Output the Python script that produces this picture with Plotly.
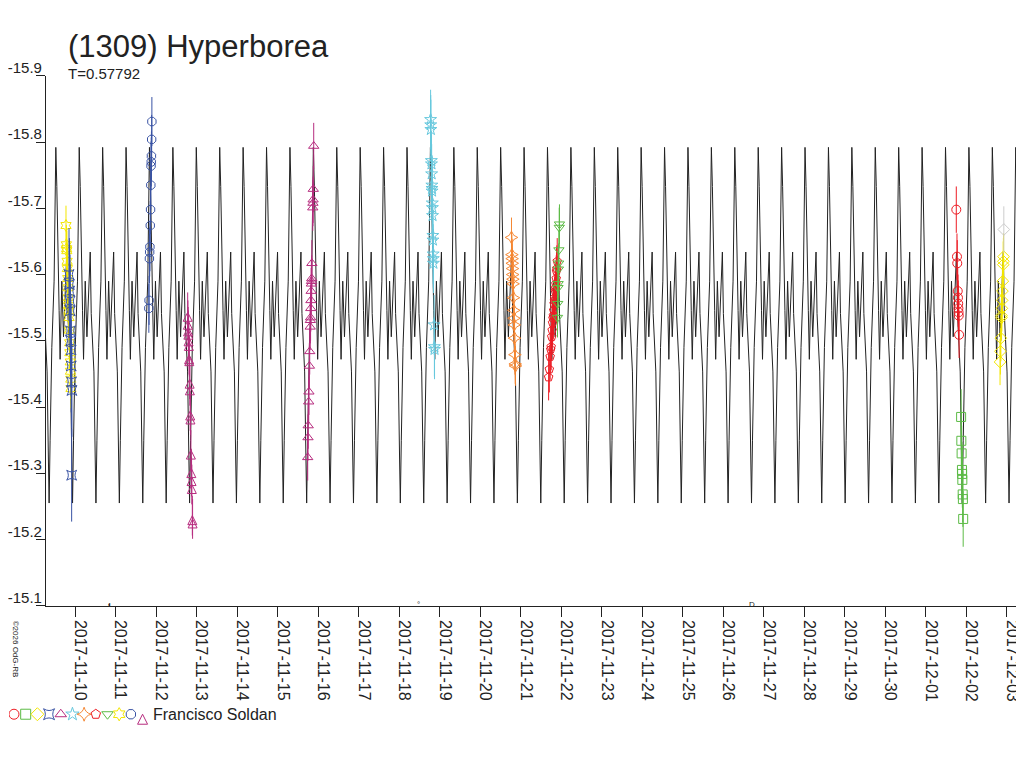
import pandas as pd
import plotly.graph_objects as go

FONT = "Liberation Sans, Arial, sans-serif"
# the page puts the figure 8px in from the corner, so it is drawn 8px smaller
PAGE_OFF = 8
W, H = 1024 - PAGE_OFF, 768 - PAGE_OFF

PERIOD = 0.57792  # days
EPOCH = pd.Timestamp("2017-11-23 05:28")  # a model minimum

# one cycle of the model curve, phase 0 = minimum
model_phase = [0.000, 0.042, 0.115, 0.213, 0.256, 0.286, 0.329, 0.359, 0.427,
               0.470, 0.542, 0.615, 0.683, 0.756, 0.799, 0.854, 0.914, 0.970]
model_mag = [-15.255, -15.349, -15.490, -15.590, -15.727, -15.792, -15.733, -15.649, -15.546,
             -15.472, -15.590, -15.506, -15.585, -15.634, -15.541, -15.497, -15.453, -15.320]

y_ticks = [-15.9, -15.8, -15.7, -15.6, -15.5, -15.4, -15.3, -15.2, -15.1]

# observing sessions (times UT, reduced magnitudes)
s1_day = "2017-11-09"
s1_t = ["18:35", "18:48", "18:58", "19:04", "19:16", "19:24", "19:37", "19:44", "19:57", "20:03",
        "20:16", "20:24", "20:36", "20:47", "20:53", "21:07", "21:14", "21:26", "21:33"]
s1_m = [-15.674, -15.645, -15.639, -15.636, -15.620, -15.609, -15.594, -15.580, -15.565, -15.553,
        -15.546, -15.535, -15.516, -15.497, -15.482, -15.468, -15.454, -15.442, -15.428]

s2_day = "2017-11-09"
s2_t = ["20:22", "20:35", "20:44", "20:58", "21:06", "21:15", "21:27", "21:36", "21:41", "21:52",
        "22:05", "21:56"]
s2_m = [-15.600, -15.585, -15.575, -15.560, -15.545, -15.515, -15.500, -15.486, -15.462, -15.438,
        -15.425, -15.297]

s3_day = "2017-11-11"
s3_t = ["21:28", "21:20", "21:12", "21:05", "20:58", "20:50", "20:41", "20:30", "20:18", "20:09",
        "20:00", "19:48", "19:40"]
s3_m = [-15.831, -15.804, -15.779, -15.770, -15.764, -15.735, -15.698, -15.674, -15.642, -15.634,
        -15.624, -15.561, -15.549]

s4_day = "2017-11-12"
s4_t = ["18:40", "18:48", "18:57", "19:05", "19:12", "19:22", "19:31", "19:38", "19:50", "19:58",
        "20:10", "20:18", "20:35", "20:50", "20:58", "21:08", "21:25", "21:35"]
s4_m = [-15.543, -15.531, -15.521, -15.516, -15.506, -15.499, -15.479, -15.476, -15.442, -15.432,
        -15.394, -15.388, -15.335, -15.307, -15.295, -15.283, -15.236, -15.231]

s5_day = "2017-11-15"
s5_t = ["21:20", "21:05", "20:58", "20:52", "20:46", "20:15", "20:08", "20:03", "19:58", "19:50",
        "19:42", "19:36", "19:28", "19:22", "19:15", "18:58", "18:47", "18:30", "18:22", "18:04",
        "17:56", "17:46"]
s5_m = [-15.794, -15.729, -15.713, -15.708, -15.701, -15.617, -15.594, -15.590, -15.586, -15.575,
        -15.561, -15.549, -15.535, -15.531, -15.521, -15.484, -15.462, -15.423, -15.408, -15.372,
        -15.354, -15.324]

s6_day = "2017-11-18"
s6_t = ["18:35", "18:40", "18:44", "19:02", "19:06", "19:12", "19:20", "19:24", "19:27", "19:35",
        "19:39", "19:44", "19:55", "19:58", "20:07", "20:11", "20:15", "20:40", "20:50", "20:55"]
s6_m = [-15.834, -15.826, -15.819, -15.772, -15.767, -15.752, -15.735, -15.730, -15.726, -15.708,
        -15.701, -15.689, -15.659, -15.652, -15.631, -15.624, -15.617, -15.524, -15.491, -15.487]

s7_day = "2017-11-20"
s7_t = ["18:30", "18:45", "18:52", "18:58", "19:06", "19:12", "19:20", "19:27", "19:40", "19:52",
        "20:00", "20:08", "20:18", "20:32", "20:43", "20:50"]
s7_m = [-15.656, -15.630, -15.624, -15.617, -15.609, -15.600, -15.593, -15.586, -15.565, -15.546,
        -15.534, -15.524, -15.504, -15.479, -15.465, -15.462]

s8_day = "2017-11-21"
s8_t = ["21:35", "21:20", "21:10", "21:00", "20:48", "20:35", "20:25", "20:10", "19:58", "19:45",
        "19:30", "19:18", "19:05", "18:50", "18:35", "18:20", "18:00", "17:45", "17:25", "16:55",
        "16:30"]
s8_m = [-15.620, -15.609, -15.605, -15.594, -15.586, -15.580, -15.575, -15.565, -15.561, -15.556,
        -15.546, -15.538, -15.534, -15.527, -15.516, -15.506, -15.491, -15.487, -15.476, -15.457,
        -15.445]

s9_day = "2017-11-21"
s9_t = ["22:55", "22:48", "22:35", "22:25", "22:18", "22:08", "22:02", "21:54", "21:45"]
s9_m = [-15.676, -15.671, -15.637, -15.617, -15.608, -15.586, -15.580, -15.556, -15.535]

s10_day = "2017-12-01"
s10_t = ["18:00", "18:25", "18:35", "18:52", "19:00", "19:08", "19:15", "19:22", "19:28", "19:40"]
s10_m = [-15.698, -15.627, -15.617, -15.575, -15.565, -15.556, -15.549, -15.543, -15.538, -15.509]

s11_day = "2017-12-01"
s11_t = ["20:52", "21:00", "21:10", "21:22", "21:28", "21:35", "21:48", "21:55", "22:05"]
s11_m = [-15.385, -15.349, -15.330, -15.305, -15.299, -15.290, -15.268, -15.261, -15.231]

s12_day = "2017-12-02"
s12_t = ["22:02", "21:55", "21:50", "21:35", "21:20", "21:10", "21:00", "20:50", "20:45", "20:25",
         "20:08", "19:55"]
s12_m = [-15.627, -15.620, -15.615, -15.590, -15.575, -15.561, -15.549, -15.538, -15.535, -15.504,
         -15.484, -15.468]

s13_day = "2017-12-02"
s13_t = ["22:10"]
s13_m = [-15.668]

sessions = [
    (s1_day, s1_t, s1_m, "hexagram-open", "#f3e600", 0.03),
    (s2_day, s2_t, s2_m, "star-square-open", "#3953a4", 0.07),
    (s3_day, s3_t, s3_m, "octagon-open", "#3953a4", 0.037),
    (s4_day, s4_t, s4_m, "arrow-up-open", "#b72d7f", 0.03),
    (s5_day, s5_t, s5_m, "triangle-up-open", "#b72d7f", 0.035),
    (s6_day, s6_t, s6_m, "star-open", "#67c8dd", 0.045),
    (s7_day, s7_t, s7_m, "star-diamond-open", "#f58733", 0.03),
    (s8_day, s8_t, s8_m, "pentagon-open", "#ed1c24", 0.035),
    (s9_day, s9_t, s9_m, "triangle-down-open", "#5cbb46", 0.03),
    (s10_day, s10_t, s10_m, "circle-open", "#ed1c24", 0.035),
    (s11_day, s11_t, s11_m, "square-open", "#5cbb46", 0.042),
    (s12_day, s12_t, s12_m, "diamond-open", "#f3e600", 0.035),
    (s13_day, s13_t, s13_m, "diamond-open", "#cccccc", 0.035),
]

legend_symbols = ["circle-open", "square-open", "diamond-open", "star-square-open",
                  "triangle-up-open", "star-open", "star-diamond-open", "pentagon-open",
                  "triangle-down-open", "hexagram-open", "octagon-open", "arrow-up-open"]
legend_colors = ["#ed1c24", "#5cbb46", "#f3e600", "#3953a4", "#b72d7f", "#67c8dd",
                 "#f58733", "#ed1c24", "#5cbb46", "#f3e600", "#3953a4", "#b72d7f"]
observer = "Francisco Soldan"

moon_dates = ["2017-11-10 20:36", "2017-11-18 11:42", "2017-11-26 17:03"]
moon_glyphs = ["◖", "°", "D"]

X_START = "2017-11-09 06:43"
X_END = "2017-12-03 10:07"


def _px(x, y):
    """screen pixels of the reference (from top-left) to paper coords"""
    return (x - PAGE_OFF) / W, 1 - (y - PAGE_OFF) / H


def main():
    fig = go.Figure()

    # model curve, repeated cycle by cycle
    xs, ys = [], []
    for n in range(-26, 20):
        for ph, m in zip(model_phase, model_mag):
            xs.append(EPOCH + pd.Timedelta(days=(n + ph) * PERIOD))
            ys.append(m)
    fig.add_trace(go.Scatter(x=xs, y=ys, mode="lines",
                             line=dict(color="#222222", width=1), hoverinfo="skip"))

    for day, times, mags, symbol, color, err in sessions:
        fig.add_trace(go.Scatter(
            x=[pd.Timestamp(f"{day} {t}") for t in times],
            y=mags,
            mode="markers",
            marker=dict(symbol=symbol, size=9, color=color, line=dict(width=1, color=color)),
            error_y=dict(type="constant", value=err, color=color, thickness=1, width=0),
        ))

    # symbol key under the plot
    kx1, _ = _px(205, 0)
    _, ky0 = _px(0, 730)
    _, ky1 = _px(0, 696)
    fig.add_trace(go.Scatter(
        x=list(range(1, len(legend_symbols) + 1)),
        y=[0] * len(legend_symbols),
        mode="markers",
        marker=dict(symbol=legend_symbols, size=10, color=legend_colors,
                    line=dict(width=1, color=legend_colors)),
        xaxis="x2", yaxis="y2", hoverinfo="skip",
    ))

    x0, _ = _px(45, 0)
    _, yb = _px(0, 602)
    _, yt = _px(0, 60)

    fig.update_layout(
        width=W, height=H,
        margin=dict(l=0, r=0, t=0, b=0),
        paper_bgcolor="white", plot_bgcolor="white",
        showlegend=False,
        font=dict(family=FONT, size=16, color="#222222"),
        xaxis=dict(
            type="date", domain=[x0, 1], range=[X_START, X_END],
            tick0="2017-11-10", dtick=86400000, tickformat="%Y-%m-%d",
            tickangle=90, ticks="outside", ticklen=10, tickwidth=1, tickcolor="#222222",
            ticklabelshift=5,
            showline=True, linecolor="#222222", linewidth=1,
            showgrid=False, zeroline=False, anchor="y",
        ),
        yaxis=dict(
            domain=[yb, yt], range=[-15.1, -15.9],
            tickvals=y_ticks, ticktext=[f"{v:.1f}" for v in y_ticks],
            tickfont=dict(size=15),
            ticks="outside", ticklen=9, tickwidth=1, tickcolor="#222222",
            ticklabelshift=8, ticklabelstandoff=-9,
            showline=True, linecolor="#222222", linewidth=1,
            showgrid=False, zeroline=False, anchor="x",
        ),
        xaxis2=dict(domain=[0, kx1], range=[0.573, 17.41], visible=False, anchor="y2"),
        yaxis2=dict(domain=[ky0, ky1], range=[-1, 1], visible=False, anchor="x2"),
    )

    tx, ty = _px(65, 30)
    fig.add_annotation(text="(1309) Hyperborea", x=tx, y=ty, xref="paper", yref="paper",
                       xanchor="left", yanchor="middle", showarrow=False,
                       font=dict(size=31, family=FONT, color="#222222"))
    tx, ty = _px(65, 58)
    fig.add_annotation(text=f"T={PERIOD}", x=tx, y=ty, xref="paper", yref="paper",
                       xanchor="left", yanchor="middle", showarrow=False,
                       font=dict(size=15, family=FONT, color="#222222"))
    tx, ty = _px(150, 713)
    fig.add_annotation(text=observer, x=tx, y=ty, xref="paper", yref="paper",
                       xanchor="left", yanchor="middle", showarrow=False,
                       font=dict(size=16, family=FONT, color="#222222"))
    tx, ty = _px(14, 647)
    fig.add_annotation(text="©2026 OdG-RB", x=tx, y=ty, xref="paper", yref="paper",
                       xanchor="center", yanchor="middle", showarrow=False, textangle=90,
                       font=dict(size=8, family=FONT, color="#222222"))

    _, my = _px(0, 607)
    for d, g in zip(moon_dates, moon_glyphs):
        fig.add_annotation(text=g, x=d, y=my, xref="x", yref="paper",
                           showarrow=False, font=dict(size=8, family=FONT, color="#222222"))

    fig.write_html("out.html")


if __name__ == "__main__":
    main()
